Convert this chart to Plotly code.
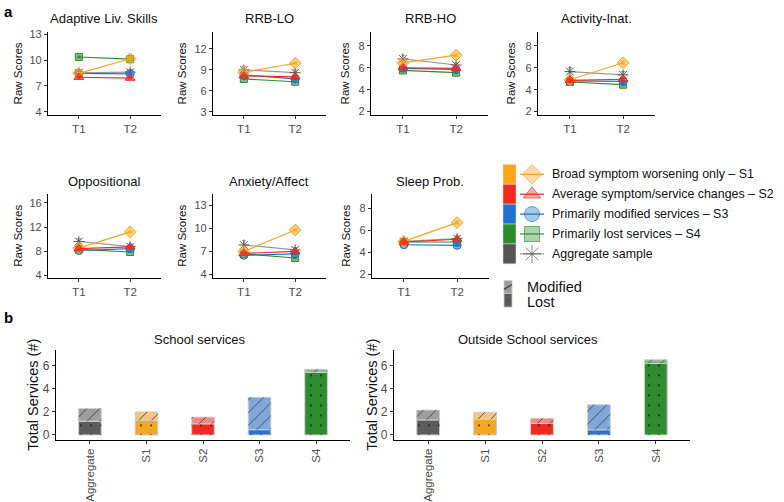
import plotly.graph_objects as go

W, H = 784, 502
FONT = "Liberation Sans, Arial, Helvetica, sans-serif"

# ---------------- data ----------------
panels = ["Adaptive Liv. Skills", "RRB-LO", "RRB-HO", "Activity-Inat.",
          "Oppositional", "Anxiety/Affect", "Sleep Prob."]
timepoints = ["T1", "T2"]

s1_vals = [[8.45, 10.15], [8.67, 9.95], [6.45, 7.15], [4.9, 6.45], [8.5, 11.2], [7.0, 9.8], [5.0, 6.7]]
s2_vals = [[8.0, 7.9], [8.15, 8.0], [6.0, 5.95], [4.85, 4.95], [8.4, 8.7], [6.75, 7.0], [4.95, 5.2]]
s3_vals = [[8.45, 8.4], [8.3, 7.7], [5.95, 5.85], [4.8, 4.75], [8.1, 8.4], [6.5, 6.7], [4.7, 4.65]]
s4_vals = [[10.35, 10.1], [7.7, 7.3], [5.75, 5.55], [4.7, 4.45], [8.3, 7.85], [6.7, 6.15], [4.95, 4.95]]
agg_vals = [[8.5, 8.6], [9.0, 8.6], [6.8, 6.25], [5.65, 5.35], [9.6, 8.75], [7.85, 7.2], [5.0, 5.25]]
agg_err = [[0.2, 0.3], [0.5, 0.4], [0.35, 0.2], [0.35, 0.3], [0.45, 0.3], [0.55, 0.3], [0.15, 0.2]]

y_ranges = [[3.6, 13.3], [2.5, 14.5], [1.67, 9.3], [1.67, 9.3], [3.6, 17.5], [3.6, 14.5], [1.73, 9.3]]
y_ticks = [[4, 7, 10, 13], [3, 6, 9, 12], [2, 4, 6, 8], [2, 4, 6, 8], [4, 8, 12, 16], [4, 7, 10, 13], [2, 4, 6, 8]]

series_labels = ["Broad symptom worsening only – S1", "Average symptom/service changes – S2",
                 "Primarily modified services – S3", "Primarily lost services – S4", "Aggregate sample"]

bar_categories = ["Aggregate", "S1", "S2", "S3", "S4"]
school_lost = [1.2, 1.27, 0.97, 0.46, 5.44]
school_modified = [1.1, 0.73, 0.58, 2.81, 0.26]
outside_lost = [1.31, 1.37, 1.0, 0.45, 6.2]
outside_modified = [0.85, 0.6, 0.45, 2.17, 0.32]
bar_titles = ["School services", "Outside School services"]

# ---------------- styles ----------------
C_S1, C_S2, C_S3, C_S4, C_AGG = "#FFA51A", "#F5281C", "#1F72CF", "#2C8C2C", "#555555"
F_S1, F_S2, F_S3, F_S4 = ("rgba(255,165,26,0.55)", "rgba(245,40,28,0.55)",
                          "rgba(31,114,207,0.55)", "rgba(44,140,44,0.55)")
bar_base = ["#5c5c5c", "#F5A623", "#EE2A22", "#2A72CC", "#2E8B2E"]
bar_light = ["#9d9d9d", "#F6C47A", "#F08A87", "#80A7DA", "#88B888"]

def px(x):
    return x / W

def py(y):
    return 1 - y / H

panel_boxes = [(48, 161, 28, 113), (213, 326, 28, 113), (371, 488, 28, 113), (538, 655, 28, 113),
               (48, 161, 193, 278), (213, 326, 193, 278), (372, 489, 193, 278)]
title_x = [104, 269, 430, 596, 104, 269, 430]
ylabel_x = [18, 182, 345, 511, 18, 182, 346]
bar_boxes = [(56, 350, 352, 443), (394, 690, 352, 443)]

fig = go.Figure()

series = [
    (agg_vals, C_AGG, "#9a9a9a", "asterisk-open", C_AGG, 9),
    (s4_vals, C_S4, C_S4, "square", F_S4, 7),
    (s3_vals, C_S3, C_S3, "circle", F_S3, 8),
    (s1_vals, C_S1, C_S1, "diamond", F_S1, 9),
    (s2_vals, C_S2, C_S2, "triangle-up", F_S2, 8.5),
]

layout_axes = {}
annotations = []
for i, name in enumerate(panels):
    k = i + 1
    for j, (vals, mcol, lcol, sym, fill, size) in enumerate(series):
        err = agg_err[i] if j == 0 else [0.1, 0.1]
        fig.add_trace(go.Scatter(
            x=timepoints, y=vals[i], mode="lines+markers",
            line=dict(color=lcol, width=1.2),
            marker=dict(symbol=sym, size=size, color=fill, line=dict(color=mcol, width=1)),
            error_y=dict(type="data", array=err, color=lcol, thickness=1, width=2),
            xaxis=f"x{k}", yaxis=f"y{k}", showlegend=False, cliponaxis=False,
        ))
    x0, x1, y0, y1 = panel_boxes[i]
    layout_axes[f"xaxis{k}"] = dict(
        domain=[px(x0), px(x1)], anchor=f"y{k}", type="category", range=[-0.6, 1.6],
        showline=True, linecolor="black", linewidth=1.3, ticks="outside", ticklen=3,
        tickcolor="#333", tickfont=dict(size=11.5, color="#4d4d4d"), showgrid=False, zeroline=False)
    layout_axes[f"yaxis{k}"] = dict(
        domain=[py(y1), py(y0)], anchor=f"x{k}", range=y_ranges[i], tickvals=y_ticks[i],
        showline=True, linecolor="black", linewidth=1.3, ticks="outside", ticklen=3,
        tickcolor="#333", tickfont=dict(size=11, color="#4d4d4d"), showgrid=False, zeroline=False)
    annotations.append(dict(text=name, x=px(title_x[i]), y=py(y0 - 13), xref="paper", yref="paper",
                            showarrow=False, font=dict(size=13, color="#111"), xanchor="center", yanchor="middle"))
    annotations.append(dict(text="Raw Scores", x=px(ylabel_x[i]), y=py((y0 + y1) / 2), xref="paper", yref="paper",
                            showarrow=False, textangle=-90, font=dict(size=11.5, color="#111"),
                            xanchor="center", yanchor="middle"))

# ---------------- bars (solid fill + pattern overlay) ----------------
bar_data = [(school_lost, school_modified), (outside_lost, outside_modified)]
for b, (lost, mod) in enumerate(bar_data):
    k = 8 + b
    common = dict(x=bar_categories, width=0.4, xaxis=f"x{k}", yaxis=f"y{k}", showlegend=False)
    # lost: solid + sparse dots
    fig.add_trace(go.Bar(y=lost, marker=dict(color=bar_base, line=dict(color="#cfcfcf", width=1)), **common))
    fig.add_trace(go.Bar(y=lost, marker=dict(color="#1a1a1a", line=dict(width=0),
                                              pattern=dict(shape=".", fillmode="replace", size=10, solidity=0.025)),
                         **common))
    # modified: solid + stripes, stacked on lost
    fig.add_trace(go.Bar(y=mod, base=lost, marker=dict(color=bar_light, line=dict(color="#cfcfcf", width=1)),
                         **common))
    fig.add_trace(go.Bar(y=mod, base=lost, marker=dict(color="#3a3a3a", line=dict(width=0),
                                                        pattern=dict(shape="/", fillmode="replace", size=9,
                                                                     solidity=0.09)),
                         **common))
    x0, x1, y0, y1 = bar_boxes[b]
    layout_axes[f"xaxis{k}"] = dict(
        domain=[px(x0), px(x1)], anchor=f"y{k}", type="category", range=[-0.6, 4.6],
        showline=True, linecolor="black", linewidth=1.3, ticks="outside", ticklen=3,
        tickcolor="#333", tickangle=-90, tickfont=dict(size=11.5, color="#4d4d4d"),
        showgrid=False, zeroline=False)
    layout_axes[f"yaxis{k}"] = dict(
        domain=[py(y1), py(y0)], anchor=f"x{k}", range=[-0.43, 7.34], tickvals=[0, 2, 4, 6],
        showline=True, linecolor="black", linewidth=1.3, ticks="outside", ticklen=3,
        tickcolor="#333", tickfont=dict(size=12, color="#4d4d4d"), showgrid=False, zeroline=False)

annotations.append(dict(text=bar_titles[0], x=px(200), y=py(341), xref="paper", yref="paper", showarrow=False,
                        xanchor="center", yanchor="middle", font=dict(size=13, color="#111")))
annotations.append(dict(text=bar_titles[1], x=px(528), y=py(341), xref="paper", yref="paper", showarrow=False,
                        xanchor="center", yanchor="middle", font=dict(size=13, color="#111")))
for xl in (33, 372):
    annotations.append(dict(text="Total Services (#)", x=px(xl), y=py(397), xref="paper", yref="paper",
                            showarrow=False, textangle=-90, xanchor="center", yanchor="middle",
                            font=dict(size=14.5, color="#111")))

# panel letters
annotations.append(dict(text="<b>a</b>", x=px(2), y=py(8), xref="paper", yref="paper", showarrow=False,
                        xanchor="left", yanchor="middle", font=dict(size=15, color="#000")))
annotations.append(dict(text="<b>b</b>", x=px(2), y=py(319), xref="paper", yref="paper", showarrow=False,
                        xanchor="left", yanchor="middle", font=dict(size=15, color="#000")))

# ---------------- custom legend ----------------
shapes = []
leg_top, leg_step = 163, 20.2
leg_colors = [C_S1, C_S2, C_S3, C_S4, C_AGG]
leg_symbols = ["diamond", "triangle-up", "circle", "square", "asterisk-open"]
leg_fills = [F_S1, F_S2, F_S3, F_S4, C_AGG]
leg_lines = [C_S1, C_S2, C_S3, C_S4, "#9a9a9a"]
for n in range(5):
    ytop = leg_top + n * leg_step
    shapes.append(dict(type="rect", xref="paper", yref="paper", x0=px(503), x1=px(516),
                       y0=py(ytop + leg_step), y1=py(ytop), fillcolor=leg_colors[n],
                       line=dict(color="#e0e0e0", width=0.5), layer="above"))
    yc = ytop + leg_step / 2
    fig.add_trace(go.Scatter(
        x=[520, 532, 544], y=[yc, yc, yc], mode="lines+markers",
        line=dict(color=leg_lines[n], width=1.2),
        marker=dict(symbol=leg_symbols[n], size=[0, 15, 0], color=leg_fills[n],
                    line=dict(color=leg_colors[n], width=1)),
        xaxis="x10", yaxis="y10", showlegend=False, hoverinfo="skip", cliponaxis=False))
    annotations.append(dict(text=series_labels[n], x=px(550), y=py(yc), xref="paper", yref="paper",
                            showarrow=False, xanchor="left", yanchor="middle",
                            font=dict(size=12.4, color="#111")))

# modified / lost keys
shapes.append(dict(type="rect", xref="paper", yref="paper", x0=px(504), x1=px(512), y0=py(294), y1=py(281),
                   fillcolor="#9a9a9a", line=dict(color="#cfcfcf", width=0.8)))
shapes.append(dict(type="line", xref="paper", yref="paper", x0=px(504), x1=px(512), y0=py(290), y1=py(285),
                   line=dict(color="#444", width=1.2)))
shapes.append(dict(type="rect", xref="paper", yref="paper", x0=px(504), x1=px(512), y0=py(308), y1=py(294),
                   fillcolor="#5c5c5c", line=dict(color="#cfcfcf", width=0.8)))
shapes.append(dict(type="circle", xref="paper", yref="paper", x0=px(507.5), x1=px(508.5), y0=py(302), y1=py(301),
                   fillcolor="#111", line=dict(width=0)))
annotations.append(dict(text="Modified", x=px(525), y=py(288), xref="paper", yref="paper", showarrow=False,
                        xanchor="left", yanchor="middle", font=dict(size=14.5, color="#111")))
annotations.append(dict(text="Lost", x=px(525), y=py(303), xref="paper", yref="paper", showarrow=False,
                        xanchor="left", yanchor="middle", font=dict(size=14.5, color="#111")))

layout_axes["xaxis10"] = dict(domain=[0, 1], range=[0, W], visible=False, anchor="y10", fixedrange=True)
layout_axes["yaxis10"] = dict(domain=[0, 1], range=[H, 0], visible=False, anchor="x10", fixedrange=True)

fig.update_layout(
    width=W, height=H, margin=dict(l=0, r=0, t=0, b=0),
    paper_bgcolor="white", plot_bgcolor="rgba(0,0,0,0)",
    font=dict(family=FONT, color="#111"),
    barmode="overlay", showlegend=False,
    annotations=annotations, shapes=shapes,
    **layout_axes,
)

fig.write_html("out.html", config={"displayModeBar": False},
               post_script="document.body.style.margin='0';document.body.style.padding='0';"
                           "document.documentElement.style.overflow='hidden';")
